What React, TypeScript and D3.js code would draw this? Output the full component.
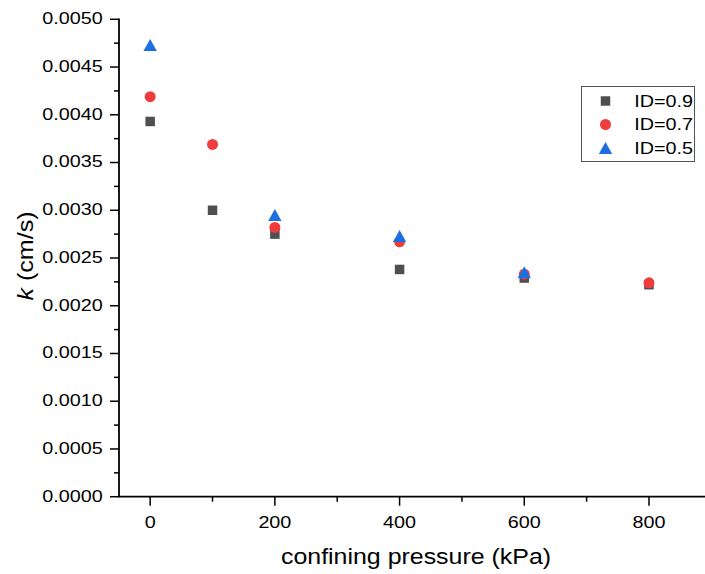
import React, { useRef, useEffect } from "react";
import * as d3 from "d3";

// confining pressure (kPa) per series
const pressures = [0, 100, 200, 400, 600, 800];
const pressuresID05 = [0, 200, 400, 600];

// permeability k (cm/s)
const kID09 = [0.00393, 0.0030, 0.00275, 0.00238, 0.00229, 0.00222];
const kID07 = [0.00419, 0.00369, 0.00282, 0.00267, 0.00233, 0.00224];
const kID05 = [0.00472, 0.00294, 0.00272, 0.00234];

const xTicks = [0, 200, 400, 600, 800];
const yTicks = d3.range(0, 0.00501, 0.0005);
const seriesNames = ["ID=0.9", "ID=0.7", "ID=0.5"];

const W = 705;
const H = 574;

function App() {
  const ref = useRef<SVGSVGElement>(null);

  useEffect(() => {
    const svg = d3.select(ref.current).html("");
    const font = "Arial, 'Liberation Sans', sans-serif";
    const sx = 1.15; // the original text is a bit wider than Arial

    const left = 119;
    const bottom = 496.7;
    const x = d3.scaleLinear().domain([-50, 900]).range([left, left + 950 * 0.6235]);
    const y = d3.scaleLinear().domain([0, 0.005]).range([bottom, 19.3]);

    // minor ticks
    const xMinor = d3.range(100, 900, 200);
    const yMinor = d3.range(0.00025, 0.005, 0.0005);

    const g = svg.append("g");

    g.selectAll(".xminor")
      .data(xMinor)
      .join("line")
      .attr("x1", (d) => x(d))
      .attr("x2", (d) => x(d))
      .attr("y1", bottom)
      .attr("y2", bottom + 5)
      .attr("stroke", "#000")
      .attr("stroke-width", 1.5);

    g.selectAll(".xmajor")
      .data(xTicks)
      .join("line")
      .attr("x1", (d) => x(d))
      .attr("x2", (d) => x(d))
      .attr("y1", bottom)
      .attr("y2", bottom + 9)
      .attr("stroke", "#000")
      .attr("stroke-width", 1.5);

    g.selectAll(".xlab")
      .data(xTicks)
      .join("text")
      .attr("transform", (d) => `translate(${x(d)},528) scale(${sx},1)`)
      .attr("text-anchor", "middle")
      .attr("font-family", font)
      .attr("font-size", 17.2)
      .text((d) => d);

    g.selectAll(".yminor")
      .data(yMinor)
      .join("line")
      .attr("x1", left - 5)
      .attr("x2", left)
      .attr("y1", (d) => y(d))
      .attr("y2", (d) => y(d))
      .attr("stroke", "#000")
      .attr("stroke-width", 1.5);

    g.selectAll(".ymajor")
      .data(yTicks)
      .join("line")
      .attr("x1", left - 9)
      .attr("x2", left)
      .attr("y1", (d) => y(d))
      .attr("y2", (d) => y(d))
      .attr("stroke", "#000")
      .attr("stroke-width", 1.5);

    g.selectAll(".ylab")
      .data(yTicks)
      .join("text")
      .attr("transform", (d) => `translate(102.7,${y(d) + 4.8}) scale(${sx},1)`)
      .attr("text-anchor", "end")
      .attr("font-family", font)
      .attr("font-size", 17.2)
      .text((d) => d3.format(".4f")(d));

    // axis lines
    g.append("line")
      .attr("x1", left).attr("x2", left)
      .attr("y1", bottom).attr("y2", 18.5)
      .attr("stroke", "#000").attr("stroke-width", 1.8);
    g.append("line")
      .attr("x1", left - 0.9).attr("x2", W + 10)
      .attr("y1", bottom).attr("y2", bottom)
      .attr("stroke", "#000").attr("stroke-width", 1.8);

    // axis titles
    g.append("text")
      .attr("transform", `translate(416,564) scale(1.16,1)`)
      .attr("text-anchor", "middle")
      .attr("font-family", font)
      .attr("font-size", 21.5)
      .text("confining pressure (kPa)");

    const yt = g.append("text")
      .attr("transform", "translate(32.5,256) rotate(-90) scale(1.14,1)")
      .attr("text-anchor", "middle")
      .attr("font-family", font)
      .attr("font-size", 22);
    yt.append("tspan").attr("font-style", "italic").text("k");
    yt.append("tspan").text(" (cm/s)");

    const gray = "#4f4f4f";
    const red = "#ef3c3c";
    const blue = "#1c6fe0";

    const square = d3.symbol().type(d3.symbolSquare).size(90);
    const circle = d3.symbol().type(d3.symbolCircle).size(95);
    const triangle = (cx: number, cy: number) =>
      `M${cx},${cy - 7}L${cx + 6.7},${cy + 5}L${cx - 6.7},${cy + 5}Z`;

    g.selectAll(".s09")
      .data(pressures.map((p, i) => [p, kID09[i]]))
      .join("path")
      .attr("d", square())
      .attr("transform", (d) => `translate(${x(d[0])},${y(d[1])})`)
      .attr("fill", gray);

    g.selectAll(".s07")
      .data(pressures.map((p, i) => [p, kID07[i]]))
      .join("path")
      .attr("d", circle())
      .attr("transform", (d) => `translate(${x(d[0])},${y(d[1])})`)
      .attr("fill", red);

    g.selectAll(".s05")
      .data(pressuresID05.map((p, i) => [p, kID05[i]]))
      .join("path")
      .attr("d", (d) => triangle(x(d[0]), y(d[1])))
      .attr("fill", blue);

    // legend
    const lg = g.append("g");
    lg.append("rect")
      .attr("x", 581.5).attr("y", 86.5)
      .attr("width", 113).attr("height", 75)
      .attr("fill", "#fff")
      .attr("stroke", "#555")
      .attr("stroke-width", 1);
    const rows = [101, 124.5, 148.5];
    const cx = 605.5;
    lg.append("path").attr("d", square()).attr("transform", `translate(${cx},${rows[0]})`).attr("fill", gray);
    lg.append("path").attr("d", circle()).attr("transform", `translate(${cx},${rows[1]})`).attr("fill", red);
    lg.append("path").attr("d", triangle(cx, rows[2] + 0.5)).attr("fill", blue);
    lg.selectAll(".lt")
      .data(seriesNames)
      .join("text")
      .attr("transform", (d, i) => `translate(634.3,${rows[i] + 5.5}) scale(${sx},1)`)
      .attr("font-family", font)
      .attr("font-size", 17.2)
      .text((d) => d);
  }, []);

  return (
    <svg
      ref={ref}
      width={W}
      height={H}
      style={{ position: "absolute", left: 0, top: 0, background: "#fff" }}
    />
  );
}

export default App;
